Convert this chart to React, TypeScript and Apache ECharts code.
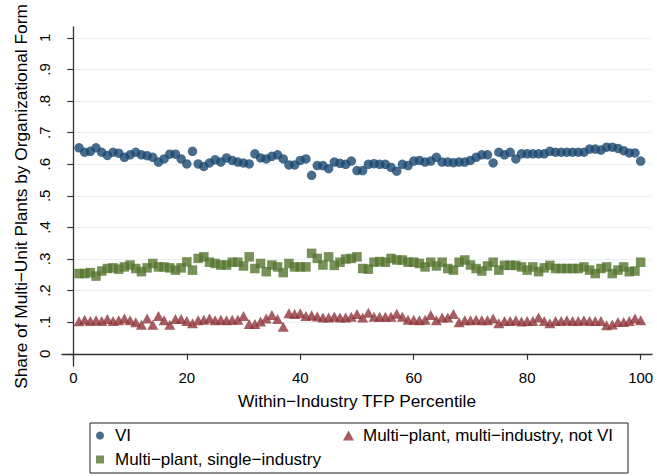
import React, { useEffect, useRef } from "react";
import * as echarts from "echarts";

const percentiles: number[] = Array.from({ length: 100 }, (_, i) => i + 1);

const viShare: number[] = [
  0.652, 0.638, 0.641, 0.652, 0.638, 0.628, 0.638, 0.635, 0.622, 0.630,
  0.638, 0.630, 0.627, 0.622, 0.607, 0.617, 0.632, 0.632, 0.617, 0.601,
  0.641, 0.601, 0.593, 0.604, 0.614, 0.607, 0.620, 0.612, 0.607, 0.604,
  0.601, 0.633, 0.620, 0.617, 0.625, 0.630, 0.617, 0.598, 0.598, 0.612,
  0.617, 0.565, 0.596, 0.596, 0.586, 0.607, 0.603, 0.600, 0.610, 0.580,
  0.580, 0.600, 0.602, 0.600, 0.600, 0.590, 0.578, 0.600, 0.596, 0.610,
  0.612, 0.607, 0.610, 0.622, 0.607, 0.607, 0.605, 0.607, 0.607, 0.612,
  0.622, 0.630, 0.630, 0.604, 0.638, 0.630, 0.638, 0.617, 0.633, 0.633,
  0.633, 0.633, 0.633, 0.641, 0.638, 0.638, 0.638, 0.638, 0.638, 0.638,
  0.648, 0.648, 0.645, 0.654, 0.654, 0.650, 0.643, 0.636, 0.636, 0.610,
];

const singleIndustryShare: number[] = [
  0.254, 0.254, 0.257, 0.246, 0.262, 0.270, 0.272, 0.268, 0.275, 0.281,
  0.270, 0.260, 0.272, 0.286, 0.275, 0.275, 0.272, 0.265, 0.272, 0.291,
  0.265, 0.302, 0.307, 0.290, 0.286, 0.281, 0.281, 0.290, 0.290, 0.278,
  0.307, 0.270, 0.286, 0.260, 0.281, 0.275, 0.257, 0.286, 0.275, 0.275,
  0.275, 0.318, 0.302, 0.281, 0.307, 0.280, 0.290, 0.300, 0.302, 0.307,
  0.270, 0.268, 0.290, 0.292, 0.290, 0.302, 0.297, 0.297, 0.290, 0.290,
  0.286, 0.275, 0.290, 0.278, 0.290, 0.270, 0.265, 0.290, 0.297, 0.281,
  0.270, 0.262, 0.278, 0.290, 0.265, 0.280, 0.280, 0.280, 0.275, 0.265,
  0.275, 0.260, 0.272, 0.280, 0.270, 0.270, 0.270, 0.270, 0.270, 0.275,
  0.265, 0.254, 0.270, 0.275, 0.254, 0.265, 0.275, 0.260, 0.262, 0.290,
];

const multiIndustryNotViShare: number[] = [
  0.103, 0.108, 0.104, 0.106, 0.104, 0.110, 0.104, 0.106, 0.112, 0.106,
  0.100, 0.092, 0.112, 0.092, 0.120, 0.106, 0.092, 0.110, 0.110, 0.104,
  0.097, 0.106, 0.108, 0.112, 0.106, 0.108, 0.106, 0.108, 0.108, 0.120,
  0.094, 0.094, 0.102, 0.112, 0.123, 0.110, 0.086, 0.128, 0.126, 0.128,
  0.120, 0.122, 0.118, 0.115, 0.115, 0.118, 0.115, 0.115, 0.117, 0.126,
  0.115, 0.130, 0.117, 0.117, 0.117, 0.117, 0.127, 0.117, 0.108, 0.108,
  0.106, 0.108, 0.123, 0.106, 0.115, 0.115, 0.126, 0.100, 0.106, 0.106,
  0.108, 0.106, 0.106, 0.112, 0.097, 0.104, 0.104, 0.106, 0.102, 0.104,
  0.104, 0.115, 0.104, 0.097, 0.104, 0.104, 0.106, 0.104, 0.104, 0.106,
  0.104, 0.104, 0.104, 0.090, 0.093, 0.101, 0.101, 0.104, 0.112, 0.106,
];

const xTicks: number[] = [0, 20, 40, 60, 80, 100];
const yTicks: number[] = [0, 0.1, 0.2, 0.3, 0.4, 0.5, 0.6, 0.7, 0.8, 0.9, 1];

const seriesNames = {
  vi: "VI",
  multi: "Multi\u2212plant, multi\u2212industry, not VI",
  single: "Multi\u2212plant, single\u2212industry",
};

const NAVY = "#1a476f";
const MAROON = "#90353b";
const GREEN = "#55752f";
const FONT = "'Liberation Sans', Arial, sans-serif";

export default function App() {
  const ref = useRef<HTMLDivElement>(null);

  useEffect(() => {
    if (!ref.current) return;
    const chart = echarts.init(ref.current, undefined, { renderer: "svg" });
    const pair = (ys: number[]) => percentiles.map((x, i) => [x, ys[i]]);
    const fmtY = (v: number) => {
      const k = Math.round(v * 10);
      if (k === 0) return "0";
      if (k === 10) return "1";
      return "." + k;
    };
    const legendText = { fontFamily: FONT, fontSize: 17, color: "#000" };
    chart.setOption({
      animation: false,
      backgroundColor: "#ffffff",
      textStyle: { fontFamily: FONT },
      grid: { left: 62, right: 5, top: 27, bottom: 110, containLabel: false },
      xAxis: {
        type: "value",
        min: -2,
        max: 102,
        name: "Within\u2212Industry TFP Percentile",
        nameLocation: "middle",
        nameGap: 26,
        nameTextStyle: { fontFamily: FONT, fontSize: 17.3, color: "#000" },
        axisLine: { show: true, lineStyle: { color: "#333", width: 1.3 } },
        axisTick: { show: true, length: 6, customValues: xTicks, lineStyle: { color: "#333", width: 1.2 } },
        axisLabel: { customValues: xTicks, fontFamily: FONT, fontSize: 15, color: "#000", margin: 4 },
        splitLine: { show: false },
      },
      yAxis: {
        type: "value",
        min: -0.0386,
        max: 1.0345,
        name: "Share of Multi\u2212Unit Plants by Organizational Form",
        nameLocation: "middle",
        nameGap: 32,
        nameRotate: 90,
        nameTextStyle: { fontFamily: FONT, fontSize: 17.3, color: "#000" },
        axisLine: { show: true, lineStyle: { color: "#333", width: 1.3 } },
        axisTick: { show: true, length: 6, customValues: yTicks, lineStyle: { color: "#333", width: 1.2 } },
        axisLabel: {
          customValues: yTicks,
          rotate: 90,
          formatter: fmtY,
          fontFamily: FONT,
          fontSize: 15,
          color: "#000",
          margin: 10,
        },
        splitLine: { show: true, lineStyle: { color: "#eaf2f3", width: 1.2 } },
      },
      legend: [
        {
          data: [seriesNames.vi],
          left: 91,
          top: 422,
          itemWidth: 8,
          itemHeight: 8,
          textStyle: { ...legendText, padding: [0, 0, 0, 6] },
          selectedMode: false,
        },
        {
          data: [seriesNames.multi],
          left: 338,
          top: 422,
          itemWidth: 11,
          itemHeight: 10,
          textStyle: { ...legendText, padding: [0, 0, 0, 4] },
          selectedMode: false,
        },
        {
          data: [seriesNames.single],
          left: 91,
          top: 446,
          itemWidth: 8,
          itemHeight: 8,
          textStyle: { ...legendText, padding: [0, 0, 0, 6] },
          selectedMode: false,
        },
      ],
      graphic: [
        {
          type: "rect",
          shape: { x: 90, y: 423, width: 538, height: 50 },
          style: { fill: "none", stroke: "#222", lineWidth: 1 },
          silent: true,
        },
      ],
      series: [
        {
          name: seriesNames.vi,
          type: "scatter",
          data: pair(viShare),
          symbol: "circle",
          symbolSize: 9.5,
          itemStyle: { color: NAVY },
        },
        {
          name: seriesNames.multi,
          type: "scatter",
          data: pair(multiIndustryNotViShare),
          symbol: "triangle",
          symbolSize: [11, 10],
          itemStyle: { color: MAROON },
        },
        {
          name: seriesNames.single,
          type: "scatter",
          data: pair(singleIndustryShare),
          symbol: "rect",
          symbolSize: 9.5,
          itemStyle: { color: GREEN },
        },
      ],
    });
    return () => chart.dispose();
  }, []);

  return <div ref={ref} style={{ width: 657, height: 476, position: "absolute", left: 0, top: 0 }} />;
}
